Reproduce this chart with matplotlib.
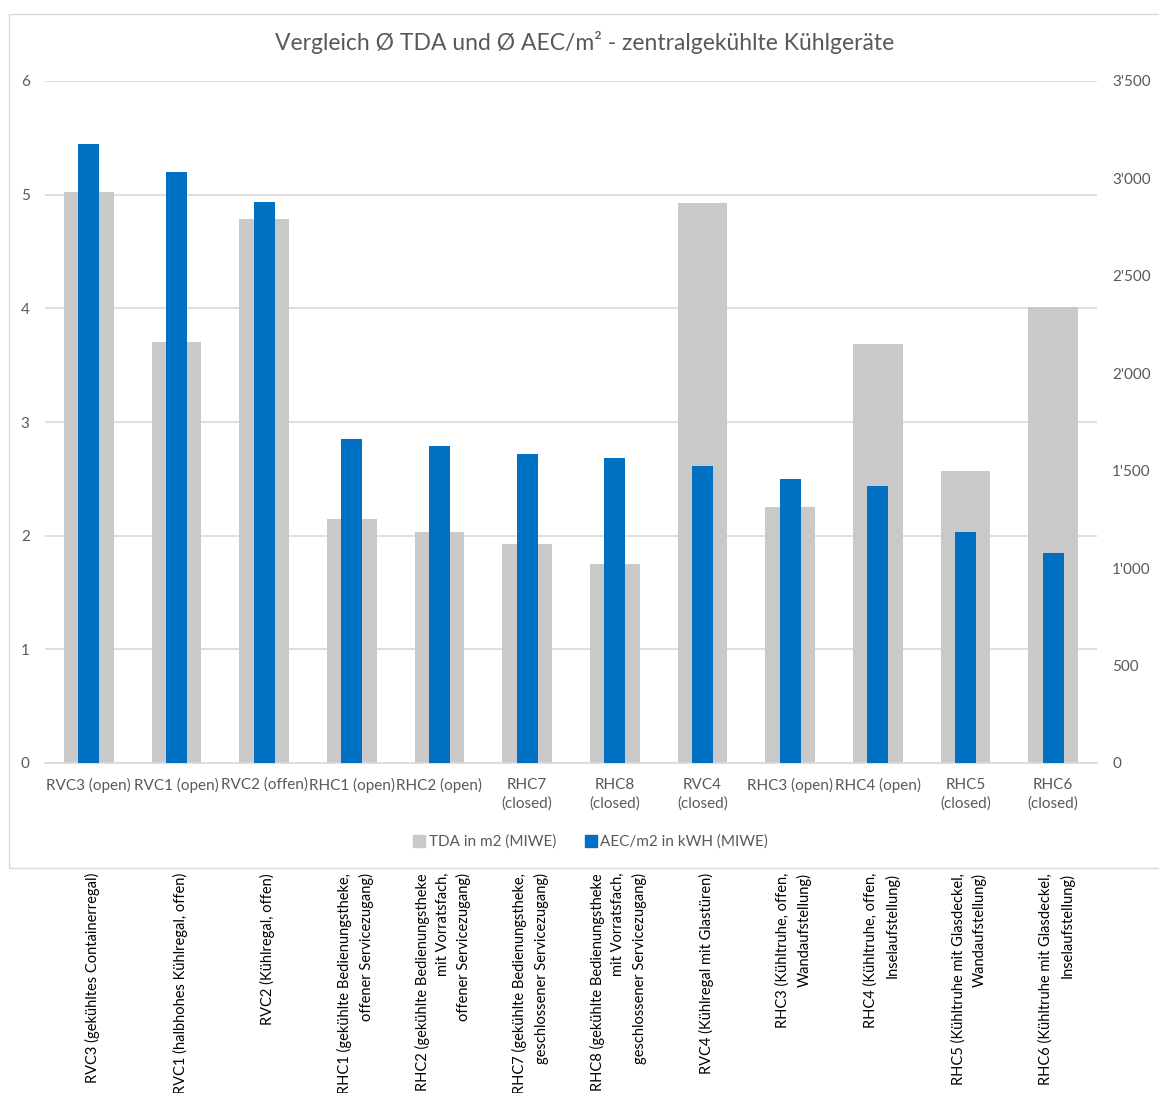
import matplotlib
matplotlib.use("Agg")
import matplotlib.pyplot as plt
import matplotlib.patches as mpatches
from matplotlib.lines import Line2D
from matplotlib.ticker import FuncFormatter, MultipleLocator
from matplotlib.transforms import blended_transform_factory
import numpy as np

plt.rcParams['font.family'] = ['Lato', 'DejaVu Sans']

# Short category labels shown under the bars
categories = [
    "RVC3 (open)", "RVC1 (open)", "RVC2 (offen)", "RHC1 (open)", "RHC2 (open)",
    "RHC7\n(closed)", "RHC8\n(closed)", "RVC4\n(closed)", "RHC3 (open)",
    "RHC4 (open)", "RHC5\n(closed)", "RHC6\n(closed)",
]

# Long descriptions listed below the chart
descriptions = [
    "RVC3 (gekühltes Containerregal)",
    "RVC1 (halbhohes Kühlregal, offen)",
    "RVC2 (Kühlregal, offen)",
    "RHC1 (gekühlte Bedienungstheke,\noffener Servicezugang)",
    "RHC2 (gekühlte Bedienungstheke\nmit Vorratsfach,\noffener Servicezugang)",
    "RHC7 (gekühlte Bedienungstheke,\ngeschlossener Servicezugang)",
    "RHC8 (gekühlte Bedienungstheke\nmit Vorratsfach,\ngeschlossener Servicezugang)",
    "RVC4 (Kühlregal mit Glastüren)",
    "RHC3 (Kühltruhe, offen,\nWandaufstellung)",
    "RHC4 (Kühltruhe, offen,\nInselaufstellung)",
    "RHC5 (Kühltruhe mit Glasdeckel,\nWandaufstellung)",
    "RHC6 (Kühltruhe mit Glasdeckel,\nInselaufstellung)",
]

# TDA in m2 (left axis)
tda = [5.02, 3.70, 4.79, 2.15, 2.03, 1.93, 1.75, 4.93, 2.25, 3.69, 2.57, 4.01]
# AEC/m2 in kWh (right axis)
aec = [3177, 3033, 2879, 1663, 1627, 1586, 1565, 1524, 1457, 1422, 1185, 1078]

series_names = ["TDA in m2 (MIWE)", "AEC/m2 in kWH (MIWE)"]
title = "Vergleich Ø TDA und Ø AEC/m² - zentralgekühlte Kühlgeräte"

GRAY = "#c9c9c9"
BLUE = "#0070c0"
TEXT = "#595959"
GRID = "#d9d9d9"

W, H = 1159, 1093
fig = plt.figure(figsize=(W / 100, H / 100), dpi=100)

# Chart frame
frame = mpatches.Rectangle((9 / W, 1 - 868 / H), 1.2, (868 - 14) / H,
                           transform=fig.transFigure, fill=False,
                           edgecolor=GRID, linewidth=1.0)
fig.patches.append(frame)

ax = fig.add_axes([45 / W, 1 - 763 / H, (1097 - 45) / W, (763 - 81) / H])
ax2 = ax.twinx()

x = np.arange(len(categories))
ax.bar(x, tda, width=0.565, color=GRAY, zorder=2)
ax2.bar(x, aec, width=0.24, color=BLUE, zorder=3)

ax.set_xlim(-0.5, len(categories) - 0.5)
ax.set_ylim(0, 6)
ax2.set_ylim(0, 3500)
ax.yaxis.set_major_locator(MultipleLocator(1))
ax2.yaxis.set_major_locator(MultipleLocator(500))
ax2.yaxis.set_major_formatter(FuncFormatter(lambda v, p: f"{int(v):,}".replace(",", "'")))

ax.grid(axis='y', color=GRID, linewidth=1.2, zorder=0)
ax.set_axisbelow(True)
for a in (ax, ax2):
    for s in a.spines.values():
        s.set_visible(False)
ax.spines['bottom'].set_visible(True)
ax.spines['bottom'].set_color(GRID)
ax.spines['bottom'].set_linewidth(1.2)

ax.set_xticks(x)
ax.set_xticklabels(categories, fontsize=11, color=TEXT, linespacing=1.45)
ax.tick_params(axis='x', length=0, pad=10.5)
ax.tick_params(axis='y', length=0, pad=11, labelsize=11, labelcolor=TEXT)
ax2.tick_params(axis='y', length=0, pad=11, labelsize=11, labelcolor=TEXT)

fig.text(585 / W, 1 - 43 / H, title, ha='center', va='center',
         fontsize=16.5, color=TEXT)

handles = [Line2D([], [], marker='s', linestyle='none', markersize=8,
                  markerfacecolor=c, markeredgecolor=c) for c in (GRAY, BLUE)]
fig.legend(handles, series_names, loc='center', ncol=2,
           bbox_to_anchor=(590 / W, 1 - 842 / H), frameon=False,
           fontsize=11, labelcolor=TEXT, handletextpad=0.1,
           columnspacing=1.8, handlelength=1.0)

# Descriptions below the chart, rotated and right-aligned
trans = blended_transform_factory(ax.transData, fig.transFigure)
for xi, d in zip(x, descriptions):
    ax.text(xi + 0.04, 1 - 873 / H, d, transform=trans, rotation=90,
            ha='center', va='top', multialignment='right',
            fontsize=10.5, color='black', linespacing=1.55, clip_on=False)

fig.savefig("out.png", dpi=100, facecolor='white')
